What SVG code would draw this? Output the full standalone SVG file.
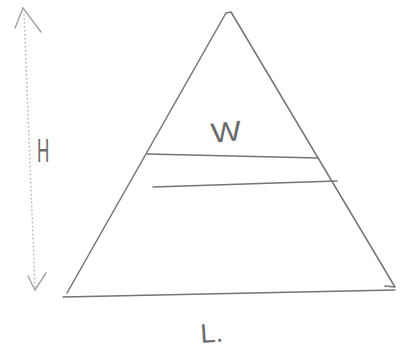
<svg xmlns="http://www.w3.org/2000/svg" width="403" height="349" viewBox="0 0 403 349">
<style>
.ln{fill:none;stroke:#747474;stroke-width:1.5;stroke-linecap:round;stroke-linejoin:round}
.dim{fill:none;stroke:#a0a0a0;stroke-width:1.4;stroke-linecap:round}
.dot{fill:none;stroke:#b0b0b0;stroke-width:1.4;stroke-dasharray:1.5 2.5}
.lbl{font-family:"Liberation Sans",Arial,sans-serif;fill:#6a6a6a}
</style>
<rect width="403" height="349" fill="#ffffff"/>
<g id="triangle">
<path class="ln" d="M67,293 L226,13 L231,12 L395,287 L385,286"/>
<path class="ln" d="M63,297 L395,290"/>
</g>
<g id="lines">
<path class="ln" d="M147,154 L318,158"/>
<path class="ln" d="M153,187 L337,181"/>
</g>
<g id="height">
<path class="dot" d="M24,14 L35,287"/>
<path class="dim" d="M15,28 L23,8 L41,32"/>
<path class="dim" d="M28,276 L35,290 L46,273"/>
<text class="lbl" x="0" y="0" font-size="34" transform="translate(37,162) scale(0.5,1)">H</text>
</g>
<g id="labels">
<text class="lbl" x="0" y="0" font-size="28" transform="translate(212,143) rotate(-6) scale(1.15,1)">W</text>
<text class="lbl" x="0" y="0" font-size="27" transform="translate(201,343) rotate(-4)">L.</text>
</g>
</svg>
